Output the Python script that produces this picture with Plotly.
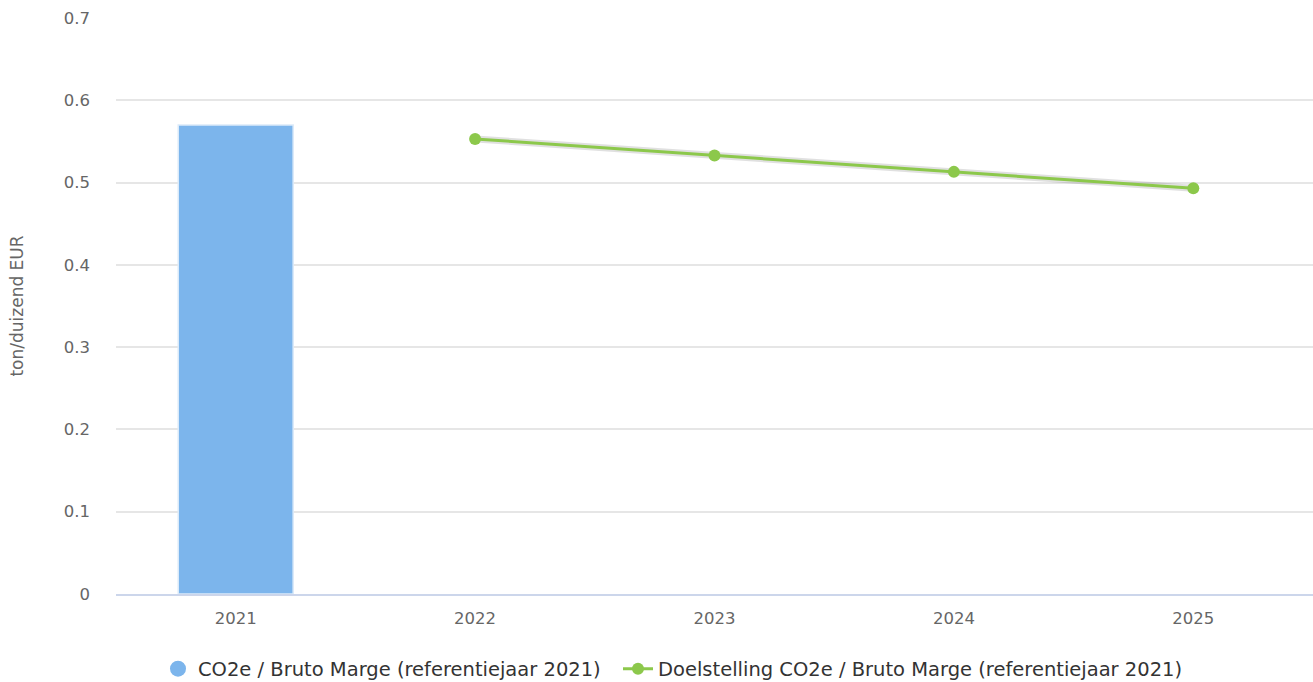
import plotly.graph_objects as go

years = ["2021", "2022", "2023", "2024", "2025"]
bar_years = ["2021"]
bar_values = [0.570]
target_years = ["2022", "2023", "2024", "2025"]
target_values = [0.553, 0.533, 0.513, 0.493]

bar_name = "CO2e / Bruto Marge (referentiejaar 2021)"
line_name = "Doelstelling CO2e / Bruto Marge (referentiejaar 2021)"
y_title = "ton/duizend EUR"

BLUE = "#7cb5ec"
GREEN = "#8cc84b"
FONT = "DejaVu Sans, Verdana, sans-serif"
W, H = 1313, 682

fig = go.Figure()
fig.add_trace(go.Bar(
    x=bar_years, y=bar_values, name=bar_name, showlegend=False,
    marker=dict(color=BLUE, line=dict(color="#dbeaf9", width=1.5)),
    width=0.48,
))
# legend proxy for bar (circle symbol)
fig.add_trace(go.Scatter(
    x=[None], y=[None], mode="markers", name=bar_name, legend="legend",
    marker=dict(color=BLUE, size=18, symbol="circle"),
))
# shadow of line
fig.add_trace(go.Scatter(
    x=target_years, y=target_values, mode="lines", showlegend=False,
    hoverinfo="skip",
    line=dict(color="rgba(0,0,0,0.12)", width=7),
))
fig.add_trace(go.Scatter(
    x=target_years, y=target_values, mode="lines+markers", name=line_name,
    legend="legend2",
    line=dict(color=GREEN, width=3),
    marker=dict(color=GREEN, size=12, symbol="circle"),
))

legend_common = dict(orientation="h", yref="container", y=1 - 669 / H, yanchor="middle",
                     xref="container", xanchor="left",
                     font=dict(size=19.5, color="#333333"), itemsizing="trace",
                     bgcolor="rgba(0,0,0,0)")

fig.update_layout(
    width=W, height=H,
    margin=dict(l=116, r=0, t=18, b=88, autoexpand=False),
    plot_bgcolor="#ffffff", paper_bgcolor="#ffffff",
    font=dict(family=FONT, size=17, color="#333333"),
    showlegend=True,
    legend=dict(x=158 / W, **legend_common),
    legend2=dict(x=618 / W, **legend_common),
)
fig.update_xaxes(
    type="category", categoryorder="array", categoryarray=years,
    range=[-0.5, 4.5],
    showline=True, linecolor="#ccd6eb", linewidth=1.5,
    showgrid=False, ticks="", tickfont=dict(size=16.5, color="#666666"),
    ticklabelstandoff=8,
)
fig.update_yaxes(
    range=[0, 0.7], dtick=0.1, tickformat="~g",
    showgrid=True, gridcolor="#e6e6e6", gridwidth=1.5,
    zeroline=False, showline=False,
    tickfont=dict(size=16.5, color="#666666"),
    ticklabelstandoff=25,
    title=dict(text=y_title, font=dict(size=17, color="#666666"), standoff=35),
)

fig.write_html("out.html", config={"displayModeBar": False},
               post_script="document.body.style.margin='0';document.body.style.overflow='hidden';")
